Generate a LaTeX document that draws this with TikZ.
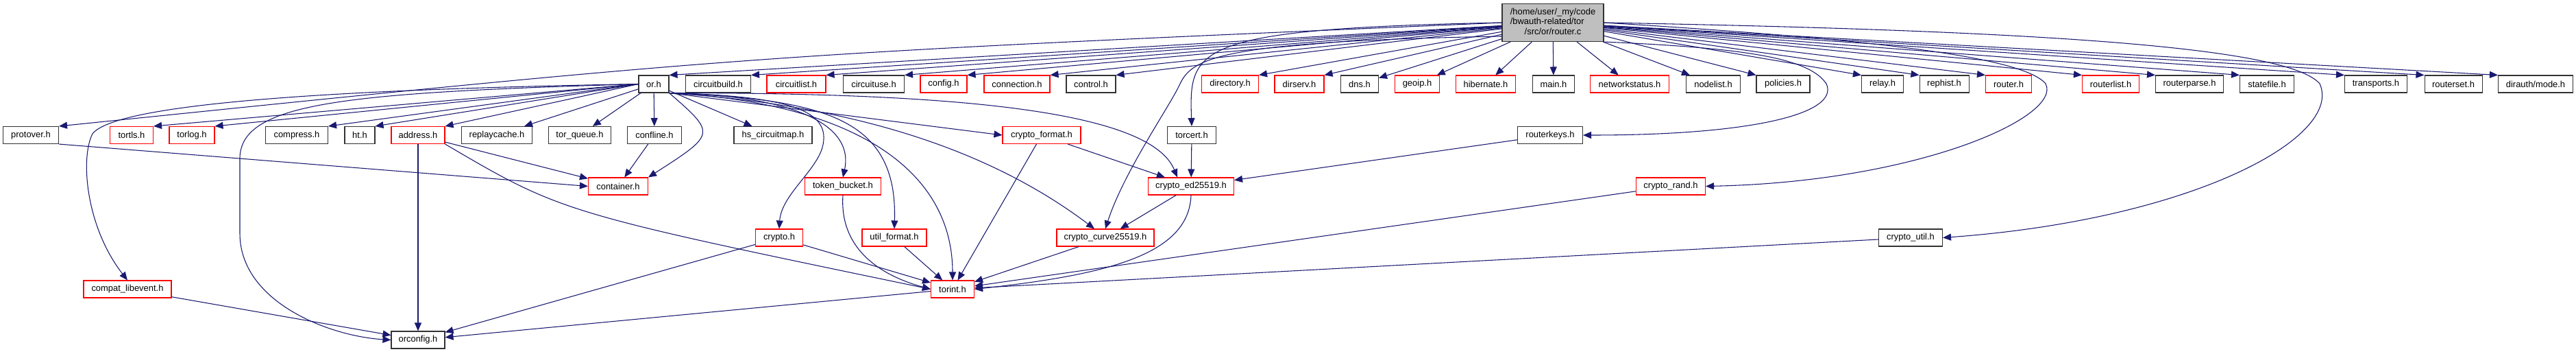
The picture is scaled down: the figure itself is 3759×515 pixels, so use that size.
\documentclass[tikz,border=0pt]{standalone}
\usepackage{fontspec}
\setmainfont{Liberation Sans}
\usetikzlibrary{arrows.meta}
\definecolor{edgeblue}{HTML}{191970}
\definecolor{rootgrey}{HTML}{BFBFBF}
\definecolor{boxgrey}{HTML}{333333}

\begin{document}
\begin{tikzpicture}[
    x=0.75pt, y=-0.75pt,
    >={Triangle[length=9pt, width=7.5pt]},
    every node/.style={font=\fontsize{9.7}{11.2}\selectfont},
    filebox/.style={
        draw=boxgrey,
        line width=0.8pt,
        fill=white,
        inner xsep=1pt,
        inner ysep=0pt,
        minimum height=18.75pt,
        minimum width=#1*0.75pt
    },
    redbox/.style={filebox=#1, draw=red},
    rootbox/.style={filebox=#1, fill=rootgrey, minimum height=41.25pt},
    arr/.style={->, draw=edgeblue, line width=0.8pt}
]
    \useasboundingbox (0,0) rectangle (3759,515);

    % Source file
    \node[rootbox=148] (root) at (2266,33)
        {\begin{tabular}{@{}l@{}}/home/user/\_my/code\\ /bwauth-related/tor\\
         \multicolumn{1}{@{}c@{}}{/src/or/router.c}\end{tabular}};

    % First row of headers
    \node[filebox=44] (orh) at (954,122.5) {or.h};
    \node[filebox=95] (circuitbuild) at (1048,122.5) {circuitbuild.h};
    \node[redbox=86] (circuitlist) at (1162,122.5) {circuitlist.h};
    \node[filebox=89] (circuituse) at (1275,122.5) {circuituse.h};
    \node[redbox=68] (config) at (1377,122.5) {config.h};
    \node[redbox=96] (connection) at (1484,122.5) {connection.h};
    \node[filebox=72] (control) at (1592,122.5) {control.h};
    \node[redbox=83] (directory) at (1795,122.5) {directory.h};
    \node[redbox=72] (dirserv) at (1896,122.5) {dirserv.h};
    \node[filebox=55] (dns) at (1984,122.5) {dns.h};
    \node[redbox=65] (geoip) at (2068,122.5) {geoip.h};
    \node[redbox=87] (hibernate) at (2168,122.5) {hibernate.h};
    \node[filebox=61] (mainh) at (2267,122.5) {main.h};
    \node[redbox=115] (networkstatus) at (2378,122.5) {networkstatus.h};
    \node[filebox=79] (nodelist) at (2500,122.5) {nodelist.h};
    \node[filebox=78] (policies) at (2602,122.5) {policies.h};
    \node[filebox=61] (relay) at (2747,122.5) {relay.h};
    \node[filebox=72] (rephist) at (2837,122.5) {rephist.h};
    \node[redbox=67] (router) at (2931,122.5) {router.h};
    \node[redbox=83] (routerlist) at (3080,122.5) {routerlist.h};
    \node[filebox=99] (routerparse) at (3195,122.5) {routerparse.h};
    \node[filebox=79] (statefile) at (3308,122.5) {statefile.h};
    \node[filebox=91] (transports) at (3467,122.5) {transports.h};
    \node[filebox=84] (routerset) at (3580,122.5) {routerset.h};
    \node[filebox=109] (dirmode) at (3700,122.5) {dirauth/mode.h};

    % Second row
    \node[filebox=81] (protover) at (45,197) {protover.h};
    \node[redbox=63] (tortls) at (192,197) {tortls.h};
    \node[redbox=66] (torlog) at (280,197) {torlog.h};
    \node[filebox=91] (compress) at (433,197) {compress.h};
    \node[filebox=44] (ht) at (525,197) {ht.h};
    \node[redbox=78] (address) at (610,197) {address.h};
    \node[filebox=103] (replaycache) at (725,197) {replaycache.h};
    \node[filebox=91] (torqueue) at (846,197) {tor\_queue.h};
    \node[filebox=79] (confline) at (955,197) {confline.h};
    \node[filebox=114] (hsmap) at (1128,197) {hs\_circuitmap.h};
    \node[redbox=114] (cryptoformat) at (1520,197) {crypto\_format.h};
    \node[filebox=71] (torcert) at (1739,197) {torcert.h};
    \node[filebox=95] (routerkeys) at (2262,197) {routerkeys.h};

    % Third row
    \node[redbox=87] (container) at (902,271.5) {container.h};
    \node[redbox=111] (tokenbucket) at (1230,271.5) {token\_bucket.h};
    \node[redbox=125] (edkey) at (1738,271.5) {crypto\_ed25519.h};
    \node[redbox=101] (cryptorand) at (2438,271.5) {crypto\_rand.h};

    % Fourth row
    \node[redbox=69] (cryptoh) at (1137,346.5) {crypto.h};
    \node[redbox=94] (utilformat) at (1305,346.5) {util\_format.h};
    \node[redbox=142] (curvekey) at (1613,346.5) {crypto\_curve25519.h};
    \node[filebox=93] (cryptoutil) at (2788,346.5) {crypto\_util.h};

    % Bottom rows
    \node[redbox=128] (compat) at (186,421.5) {compat\_libevent.h};
    \node[redbox=63] (torint) at (1390,421.5) {torint.h};
    \node[filebox=78] (orconfig) at (610,495.5) {orconfig.h};

    % Arrows from router.c to the first row
    \draw[arr] (root) -- (orh.north east);
    \draw[arr] (root) -- (circuitbuild.north east);
    \draw[arr] (root) -- (circuitlist.north east);
    \draw[arr] (root) -- (circuituse.north east);
    \draw[arr] (root) -- (config.north east);
    \draw[arr] (root) -- (connection.north east);
    \draw[arr] (root) -- (control.north east);
    \draw[arr] (root) -- (directory.north east);
    \draw[arr] (root) -- (dirserv.north east);
    \draw[arr] (root) -- (dns);
    \draw[arr] (root) -- (geoip);
    \draw[arr] (root) -- (hibernate);
    \draw[arr] (root) -- (mainh);
    \draw[arr] (root) -- (networkstatus);
    \draw[arr] (root) -- (nodelist);
    \draw[arr] (root) -- (policies.north west);
    \draw[arr] (root) -- (relay.north west);
    \draw[arr] (root) -- (rephist.north west);
    \draw[arr] (root) -- (router.north west);
    \draw[arr] (root) -- (routerlist.north west);
    \draw[arr] (root) -- (routerparse.north west);
    \draw[arr] (root) -- (statefile.north west);
    \draw[arr] (root) -- (transports.north west);
    \draw[arr] (root) -- (routerset.north west);
    \draw[arr] (root) -- (dirmode.north west);

    % Longer arrows from router.c
    \draw[arr] (root.west) .. controls (1100,80) .. (protover.north east);
    \draw[arr] (root.west) .. controls (1740,42) and (1735,70) .. (torcert.north);
    \draw[arr] (root.195) .. controls (1780,60) and (1740,85) .. (1722,122)
        .. controls (1710,150) and (1640,250) .. (curvekey.north);
    \draw[arr] (root.south east) .. controls (2550,70) and (2640,85) .. (2665,122)
        .. controls (2685,165) and (2560,197) .. (routerkeys.east);
    \draw[arr] (root.east) .. controls (2700,55) and (2950,80) .. (2985,122)
        .. controls (3010,170) and (2800,265) .. (cryptorand.east);
    \draw[arr] (root.east) .. controls (3000,45) and (3340,70) .. (3385,122)
        .. controls (3420,200) and (3200,320) .. (cryptoutil.east);

    % Arrows from or.h
    \draw[arr] (orh.west) -- (tortls.north east);
    \draw[arr] (orh.west) -- (torlog.north east);
    \draw[arr] (orh.west) -- (compress.north east);
    \draw[arr] (orh.west) -- (ht.north east);
    \draw[arr] (orh.west) -- (address.north east);
    \draw[arr] (orh) -- (replaycache);
    \draw[arr] (orh) -- (torqueue);
    \draw[arr] (orh) -- (confline);
    \draw[arr] (orh) -- (hsmap);
    \draw[arr] (orh.west) .. controls (500,130) and (170,150) .. (135,195)
        .. controls (117,230) and (125,330) .. (compat.north);
    \draw[arr] (orh.west) .. controls (500,135) and (352,150) .. (350,230)
        -- (350,340) .. controls (350,440) and (480,490) .. (orconfig.west);
    \draw[arr] (orh.south east) .. controls (1045,195) .. (container.north east);
    \draw[arr] (orh.south east) .. controls (1150,140) and (1215,160) .. (1200,215)
        .. controls (1190,250) and (1140,285) .. (cryptoh.north);
    \draw[arr] (orh.south east) .. controls (1180,140) and (1245,190) .. (tokenbucket.north);
    \draw[arr] (orh.south east) .. controls (1200,145) and (1310,170) .. (utilformat.north);
    \draw[arr] (orh.south east) .. controls (1250,150) and (1390,250) .. (torint.north);
    \draw[arr] (orh.south east) -- (cryptoformat.west);
    \draw[arr] (orh.south east) .. controls (1200,150) and (1420,200) .. ([xshift=-12pt]curvekey.north);
    \draw[arr] (orh.south east) .. controls (1420,135) and (1680,165) .. ([xshift=-15pt]edkey.north);

    % Arrows between the lower headers
    \draw[arr] (protover.south east) -- (container.west);
    \draw[arr] (address) -- (container);
    \draw[arr] (address) -- (orconfig);
    \draw[arr] (address.south east) .. controls (820,310) .. (torint.west);
    \draw[arr] (confline) -- (container);
    \draw[arr] (cryptoformat) -- (edkey);
    \draw[arr] (cryptoformat) -- (torint);
    \draw[arr] (torcert) -- (edkey);
    \draw[arr] (routerkeys) -- (edkey);
    \draw[arr] (edkey) -- (curvekey);
    \draw[arr] (edkey.south) .. controls (1735,370) and (1620,400) .. (torint.east);
    \draw[arr] (tokenbucket.south) .. controls (1225,360) and (1280,400) .. (torint.west);
    \draw[arr] (cryptoh) -- (torint);
    \draw[arr] (cryptoh) -- (orconfig);
    \draw[arr] (utilformat) -- (torint);
    \draw[arr] (curvekey) -- (torint);
    \draw[arr] (cryptorand) -- (torint);
    \draw[arr] (cryptoutil) -- (torint);
    \draw[arr] (compat) -- (orconfig);
    \draw[arr] (torint) -- (orconfig);

\end{tikzpicture}
\end{document}
